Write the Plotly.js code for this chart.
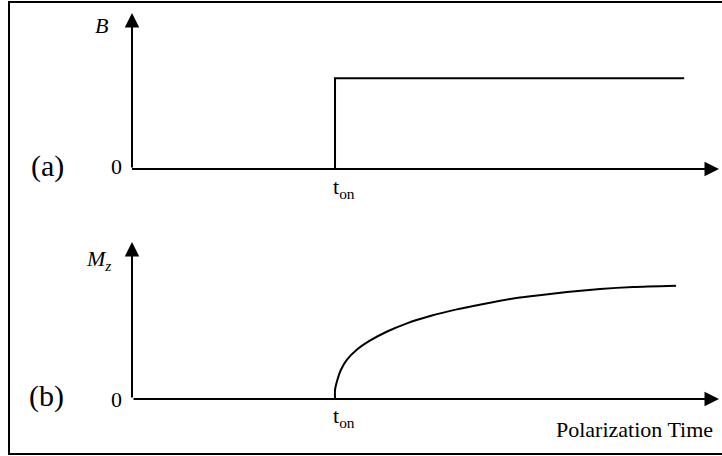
<!DOCTYPE html>
<html>
<head>
<meta charset="utf-8">
<script src="https://cdn.plot.ly/plotly-3.0.1.min.js"></script>
<style>
  html, body { margin: 0; padding: 0; background: #ffffff; }
  #chart { width: 722px; height: 456px; }
</style>
</head>
<body>
<div id="chart"></div>
<script>
// Switch-on instant of the polarizing field (arbitrary time units)
const tOn = 3.5;

// Panel (a): applied field B, a step at t_on
const timeB  = [0, 3.5, 3.5, 9.52];
const fieldB = [0, 0, 1, 1];

// Panel (b): longitudinal magnetization Mz building up after t_on
const timeM = [3.5, 3.5, 3.54, 3.6, 3.7, 3.87, 4.1, 4.39, 4.74, 5.14, 5.6, 6.06, 6.52, 6.91, 7.5, 8.07, 8.64, 9.38];
const magZ  = [0, 0.099, 0.208, 0.318, 0.427, 0.537, 0.639, 0.737, 0.829, 0.909, 0.982, 1.041, 1.095, 1.128, 1.172, 1.205, 1.227, 1.241];

// Axis extents (where the arrow heads sit)
const xAxisEnd = 10.12;
const yAxisEnd = 1.72;

// Label texts
const labelB = '<i>B</i>';
const labelM = '<i>M<sub>z</sub></i>';
const labelOn = 't<sub>on</sub>';
const labelTime = 'Polarization Time';
const panelTags = ['(a)', '(b)'];
const zeroTick = '0';

const ink = '#000000';
const serif = '"Times New Roman", "Liberation Serif", serif';

const traces = [
  {
    x: timeB, y: fieldB, xaxis: 'x', yaxis: 'y',
    mode: 'lines', line: { color: ink, width: 2 },
    hoverinfo: 'skip', showlegend: false
  },
  {
    x: timeM, y: magZ, xaxis: 'x2', yaxis: 'y2',
    mode: 'lines', line: { color: ink, width: 2, shape: 'spline', smoothing: 0.6 },
    hoverinfo: 'skip', showlegend: false
  }
];

// Arrowed axis lines for one panel
function axisArrows(xr, yr) {
  const common = {
    xref: xr, yref: yr, axref: xr, ayref: yr,
    text: '', showarrow: true, arrowhead: 2, arrowsize: 1.45,
    arrowwidth: 2, arrowcolor: ink, standoff: 0
  };
  return [
    Object.assign({}, common, { x: xAxisEnd, y: 0, ax: 0, ay: 0 }),
    Object.assign({}, common, { x: 0, y: yAxisEnd, ax: 0, ay: 0 })
  ];
}

function label(xr, yr, x, y, text, size, extra) {
  return Object.assign({
    xref: xr, yref: yr, x: x, y: y, text: text, showarrow: false,
    font: { family: serif, size: size, color: ink },
    xanchor: 'center', yanchor: 'middle'
  }, extra || {});
}

const annotations = []
  .concat(axisArrows('x', 'y'))
  .concat(axisArrows('x2', 'y2'))
  .concat([
    label('x', 'y', -0.52, 1.577, labelB, 22),
    label('x', 'y', -0.26, 0.03, zeroTick, 22),
    label('x', 'y', -1.45, 0.03, panelTags[0], 30),
    label('x', 'y', tOn, -0.21, labelOn, 22, { xshift: 9 }),
    label('x2', 'y2', -0.57, 1.52, labelM, 22),
    label('x2', 'y2', -0.26, 0.0, zeroTick, 22),
    label('x2', 'y2', -1.48, 0.03, panelTags[1], 30),
    label('x2', 'y2', tOn, -0.2, labelOn, 22, { xshift: 9 }),
    label('x2', 'y2', 10.05, -0.33, labelTime, 22, { xanchor: 'right' })
  ]);

const hidden = { visible: false, fixedrange: true };

const layout = {
  width: 722, height: 456,
  margin: { l: 0, r: 0, t: 0, b: 0 },
  paper_bgcolor: '#ffffff', plot_bgcolor: '#ffffff',
  showlegend: false,
  font: { family: serif, color: ink },
  xaxis:  Object.assign({ range: [-2.276, 10.172], domain: [0, 1], anchor: 'y' }, hidden),
  yaxis:  Object.assign({ range: [-0.650, 1.863], domain: [0.5, 1], anchor: 'x' }, hidden),
  xaxis2: Object.assign({ range: [-2.276, 10.172], domain: [0, 1], anchor: 'y2' }, hidden),
  yaxis2: Object.assign({ range: [-0.624, 1.873], domain: [0, 0.5], anchor: 'x2' }, hidden),
  annotations: annotations,
  shapes: [{
    type: 'rect', xref: 'paper', yref: 'paper',
    x0: 9 / 722, x1: 730 / 722, y0: 2 / 456, y1: 454 / 456,
    line: { color: ink, width: 2 }, fillcolor: 'rgba(0,0,0,0)'
  }]
};

Plotly.newPlot('chart', traces, layout, { displayModeBar: false, staticPlot: true });
</script>
</body>
</html>
